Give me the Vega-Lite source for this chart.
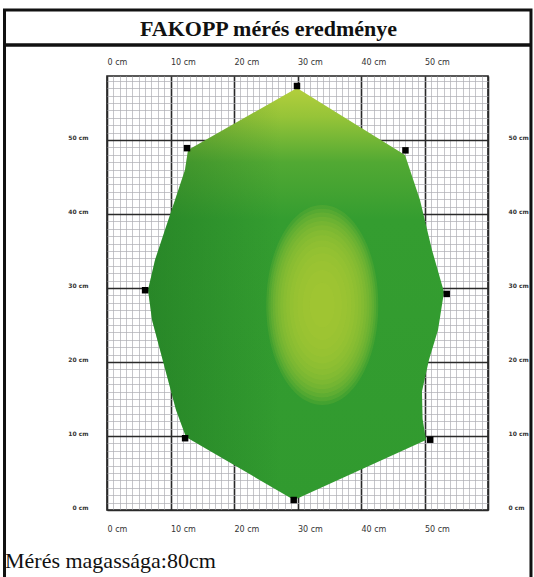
{
  "$schema": "https://vega.github.io/schema/vega-lite/v6.json",
  "width": 381,
  "height": 434,
  "autosize": {"type": "none"},
  "padding": {"left": 107, "top": 76, "right": 46, "bottom": 67},
  "background": "#ffffff",
  "config": {"view": {"stroke": "#222222", "strokeWidth": 1.6}},
  "datasets": {
    "shape": [
      {"i": 1, "x": 29.92, "y": 57.03},
      {"i": 2, "x": 12.76, "y": 48.65},
      {"i": 3, "x": 12.28, "y": 45.95},
      {"i": 4, "x": 10.71, "y": 41.89},
      {"i": 5, "x": 9.13, "y": 37.84},
      {"i": 6, "x": 7.56, "y": 33.78},
      {"i": 7, "x": 6.46, "y": 29.73},
      {"i": 8, "x": 7.09, "y": 25.68},
      {"i": 9, "x": 8.35, "y": 21.62},
      {"i": 10, "x": 9.61, "y": 17.57},
      {"i": 11, "x": 10.87, "y": 13.51},
      {"i": 12, "x": 12.44, "y": 9.86},
      {"i": 13, "x": 29.45, "y": 1.35},
      {"i": 14, "x": 50.24, "y": 9.46},
      {"i": 15, "x": 49.7, "y": 12.3},
      {"i": 16, "x": 49.6, "y": 16.0},
      {"i": 17, "x": 50.7, "y": 20.27},
      {"i": 18, "x": 52.13, "y": 24.32},
      {"i": 19, "x": 53.07, "y": 29.46},
      {"i": 20, "x": 51.18, "y": 35.14},
      {"i": 21, "x": 49.29, "y": 41.89},
      {"i": 22, "x": 46.93, "y": 47.97}
    ],
    "sensors": [
      {"x": 29.92, "y": 57.3},
      {"x": 12.6, "y": 48.9},
      {"x": 47.0, "y": 48.6},
      {"x": 6.0, "y": 29.7},
      {"x": 53.5, "y": 29.2},
      {"x": 12.3, "y": 9.7},
      {"x": 50.9, "y": 9.5},
      {"x": 29.4, "y": 1.35}
    ],
    "glow": [
      {"x": 33.9, "y": 27.7, "level": 1},
      {"x": 33.9, "y": 27.7, "level": 2},
      {"x": 33.9, "y": 27.7, "level": 3},
      {"x": 33.9, "y": 27.7, "level": 4},
      {"x": 33.9, "y": 27.7, "level": 5},
      {"x": 33.9, "y": 27.7, "level": 6},
      {"x": 33.9, "y": 27.7, "level": 7},
      {"x": 33.9, "y": 27.7, "level": 8},
      {"x": 33.9, "y": 27.7, "level": 9},
      {"x": 33.9, "y": 27.7, "level": 10},
      {"x": 33.9, "y": 27.7, "level": 11},
      {"x": 33.9, "y": 27.7, "level": 12},
      {"x": 33.9, "y": 27.7, "level": 13},
      {"x": 33.9, "y": 27.7, "level": 14}
    ],
    "frame": [{"x": -16.14, "x2": 66.77, "y": 67.57, "y2": -9.4}],
    "titleline": [{"x": -16.14, "x2": 66.77, "y": 62.84}],
    "title": [{"x": 25.43, "y": 64.05, "label": "FAKOPP mérés eredménye"}],
    "footer": [{"x": -16.06, "y": -7.9, "label": "Mérés magassága:80cm"}]
  },
  "layer": [
    {
      "data": {"name": "shape"},
      "mark": {
        "type": "line",
        "interpolate": "linear-closed",
        "strokeWidth": 0,
        "clip": false,
        "fill": {
          "gradient": "linear",
          "x1": 0.5, "y1": 0, "x2": 0.5, "y2": 1,
          "stops": [
            {"offset": 0, "color": "#b4cf3c"},
            {"offset": 0.07, "color": "#96c438"},
            {"offset": 0.18, "color": "#52a933"},
            {"offset": 0.32, "color": "#349d30"},
            {"offset": 1, "color": "#319a2f"}
          ]
        }
      },
      "encoding": {
        "x": {
          "field": "x", "type": "quantitative",
          "scale": {"domain": [0, 60], "nice": false, "zero": false},
          "axis": {
            "orient": "bottom",
            "values": [0,1,2,3,4,5,6,7,8,9,10,11,12,13,14,15,16,17,18,19,20,21,22,23,24,25,26,27,28,29,30,31,32,33,34,35,36,37,38,39,40,41,42,43,44,45,46,47,48,49,50,51,52,53,54,55,56,57,58,59,60],
            "grid": true,
            "gridColor": {"condition": {"test": "datum.value % 10 === 0", "value": "#2a2a2a"}, "value": "#adadb3"},
            "gridWidth": {"condition": {"test": "datum.value % 10 === 0", "value": 1.6}, "value": 0.7},
            "ticks": false,
            "domain": false,
            "labelExpr": "datum.value % 10 === 0 && datum.value < 60 ? datum.value + ' cm' : ''",
            "labelAlign": "left",
            "labelBaseline": "top",
            "labelPadding": 15,
            "labelFont": "DejaVu Sans",
            "labelFontSize": 8,
            "labelColor": "#333333",
            "labelOverlap": false,
            "labelFlush": false,
            "title": null
          }
        },
        "y": {
          "field": "y", "type": "quantitative",
          "scale": {"domain": [0, 58.65], "nice": false, "zero": false},
          "axis": {
            "orient": "left",
            "values": [0,1,2,3,4,5,6,7,8,9,10,11,12,13,14,15,16,17,18,19,20,21,22,23,24,25,26,27,28,29,30,31,32,33,34,35,36,37,38,39,40,41,42,43,44,45,46,47,48,49,50,51,52,53,54,55,56,57,58],
            "grid": true,
            "gridColor": {"condition": {"test": "datum.value % 10 === 0", "value": "#2a2a2a"}, "value": "#adadb3"},
            "gridWidth": {"condition": {"test": "datum.value % 10 === 0", "value": 1.6}, "value": 0.7},
            "ticks": false,
            "domain": false,
            "labelExpr": "datum.value % 10 === 0 ? datum.value + ' cm' : ''",
            "labelBaseline": "bottom",
            "labelPadding": 19,
            "labelFont": "DejaVu Sans",
            "labelFontSize": 6,
            "labelFontWeight": "bold",
            "labelColor": "#333333",
            "labelOverlap": false,
            "labelFlush": false,
            "title": null
          }
        },
        "order": {"field": "i", "type": "quantitative"}
      }
    },
    {
      "data": {"name": "shape"},
      "mark": {
        "type": "line",
        "interpolate": "linear-closed",
        "strokeWidth": 0,
        "clip": false,
        "fill": {
          "gradient": "linear",
          "x1": 0, "y1": 0.5, "x2": 1, "y2": 0.5,
          "stops": [
            {"offset": 0, "color": "rgba(20,95,25,0.35)"},
            {"offset": 0.45, "color": "rgba(20,95,25,0)"},
            {"offset": 1, "color": "rgba(20,95,25,0)"}
          ]
        }
      },
      "encoding": {
        "x": {"field": "x", "type": "quantitative", "scale": {"domain": [0, 60], "nice": false, "zero": false}, "axis": null},
        "y": {"field": "y", "type": "quantitative", "scale": {"domain": [0, 58.65], "nice": false, "zero": false}, "axis": null},
        "order": {"field": "i", "type": "quantitative"}
      }
    },
    {
      "data": {"name": "glow"},
      "mark": {
        "type": "point",
        "shape": "M-0.56,0A0.56,1 0 1,0 0.56,0A0.56,1 0 1,0 -0.56,0Z",
        "filled": true,
        "color": "#b0d03a",
        "opacity": 0.14,
        "strokeWidth": 0,
        "clip": false
      },
      "encoding": {
        "x": {
          "field": "x", "type": "quantitative",
          "scale": {"domain": [0, 60], "nice": false, "zero": false},
          "axis": {
            "orient": "top",
            "values": [0, 10, 20, 30, 40, 50],
            "grid": false,
            "ticks": false,
            "domain": false,
            "labelExpr": "datum.value + ' cm'",
            "labelAlign": "left",
            "labelPadding": 10,
            "labelFont": "DejaVu Sans",
            "labelFontSize": 8,
            "labelColor": "#333333",
            "labelOverlap": false,
            "labelFlush": false,
            "title": null
          }
        },
        "y": {
          "field": "y", "type": "quantitative",
          "scale": {"domain": [0, 58.65], "nice": false, "zero": false},
          "axis": {
            "orient": "right",
            "values": [0, 10, 20, 30, 40, 50],
            "grid": false,
            "ticks": false,
            "domain": false,
            "labelExpr": "datum.value + ' cm'",
            "labelBaseline": "bottom",
            "labelPadding": 20,
            "labelFont": "DejaVu Sans",
            "labelFontSize": 6,
            "labelFontWeight": "bold",
            "labelColor": "#333333",
            "labelOverlap": false,
            "labelFlush": false,
            "title": null
          }
        },
        "size": {
          "field": "level", "type": "quantitative",
          "scale": {"domain": [1, 14], "range": [40000, 2000], "zero": false},
          "legend": null
        }
      }
    },
    {
      "data": {"name": "sensors"},
      "mark": {"type": "point", "shape": "square", "filled": true, "color": "#000000", "size": 42, "opacity": 1, "clip": false},
      "encoding": {
        "x": {"field": "x", "type": "quantitative", "scale": {"domain": [0, 60], "nice": false, "zero": false}, "axis": null},
        "y": {"field": "y", "type": "quantitative", "scale": {"domain": [0, 58.65], "nice": false, "zero": false}, "axis": null}
      }
    },
    {
      "data": {"name": "frame"},
      "mark": {"type": "rect", "fill": null, "fillOpacity": 0, "stroke": "#111111", "strokeWidth": 3, "clip": false},
      "encoding": {
        "x": {"field": "x", "type": "quantitative", "scale": {"domain": [0, 60], "nice": false, "zero": false}, "axis": null},
        "x2": {"field": "x2"},
        "y": {"field": "y", "type": "quantitative", "scale": {"domain": [0, 58.65], "nice": false, "zero": false}, "axis": null},
        "y2": {"field": "y2"}
      }
    },
    {
      "data": {"name": "titleline"},
      "mark": {"type": "rule", "stroke": "#111111", "strokeWidth": 3.5, "clip": false},
      "encoding": {
        "x": {"field": "x", "type": "quantitative", "scale": {"domain": [0, 60], "nice": false, "zero": false}, "axis": null},
        "x2": {"field": "x2"},
        "y": {"field": "y", "type": "quantitative", "scale": {"domain": [0, 58.65], "nice": false, "zero": false}, "axis": null}
      }
    },
    {
      "data": {"name": "title"},
      "mark": {"type": "text", "font": "Liberation Serif", "fontSize": 22, "fontWeight": "bold", "color": "#111111", "align": "center", "baseline": "alphabetic", "clip": false},
      "encoding": {
        "x": {"field": "x", "type": "quantitative", "scale": {"domain": [0, 60], "nice": false, "zero": false}, "axis": null},
        "y": {"field": "y", "type": "quantitative", "scale": {"domain": [0, 58.65], "nice": false, "zero": false}, "axis": null},
        "text": {"field": "label"}
      }
    },
    {
      "data": {"name": "footer"},
      "mark": {"type": "text", "font": "Liberation Serif", "fontSize": 22, "color": "#111111", "align": "left", "baseline": "alphabetic", "clip": false},
      "encoding": {
        "x": {"field": "x", "type": "quantitative", "scale": {"domain": [0, 60], "nice": false, "zero": false}, "axis": null},
        "y": {"field": "y", "type": "quantitative", "scale": {"domain": [0, 58.65], "nice": false, "zero": false}, "axis": null},
        "text": {"field": "label"}
      }
    }
  ],
  "resolve": {"axis": {"x": "independent", "y": "independent"}}
}
